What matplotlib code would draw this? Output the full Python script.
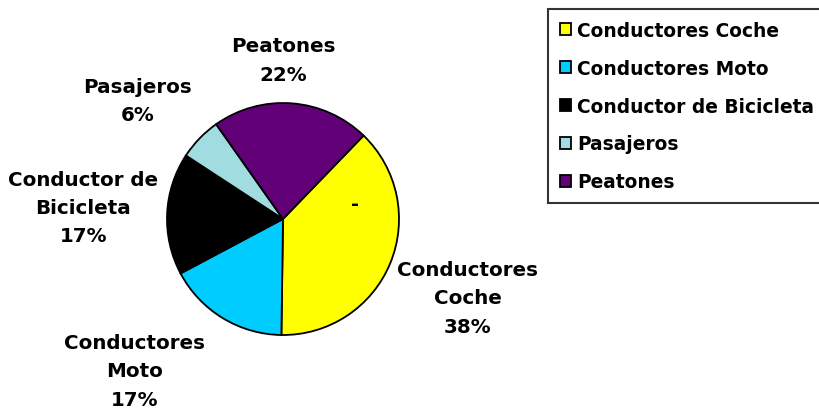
import matplotlib
matplotlib.use("Agg")
import matplotlib.pyplot as plt

# data
categories = ["Conductores Coche", "Conductores Moto", "Conductor de Bicicleta",
              "Pasajeros", "Peatones"]
pct = [38, 17, 17, 6, 22]
label_text = ["Conductores\nCoche", "Conductores\nMoto", "Conductor de\nBicicleta",
              "Pasajeros", "Peatones"]
colors = ["#FFFF00", "#00CCFF", "#000000", "#A0DCE0", "#620078"]

# label anchor points (data coords of the pie axes)
label_pos = [(1.59, -0.68), (-1.28, -1.31), (-1.72, 0.10), (-1.25, 1.02), (0.0, 1.37)]

plt.rcParams['font.family'] = ['DejaVu Sans']

fig = plt.figure(figsize=(8.2, 4.1), dpi=100)
cx, cy, r = 283, 220, 116
ax = fig.add_axes([(cx - r) / 820, (410 - cy - r) / 410, 2 * r / 820, 2 * r / 410])

wedges, _ = ax.pie(pct, colors=colors, startangle=46, counterclock=False,
                   wedgeprops=dict(edgecolor="black", linewidth=1.3))
ax.set_xlim(-1, 1)
ax.set_ylim(-1, 1)
ax.set_aspect("equal")
ax.axis("off")

for txt, p, (x, y) in zip(label_text, pct, label_pos):
    ax.text(x, y, f"{txt}\n{p}%", ha="center", va="center", fontsize=14.3,
            fontweight="bold", linespacing=1.62)

ax.text(0.62, 0.13, "-", ha="center", va="center", fontsize=14, fontweight="bold")

leg = fig.legend(wedges, categories, loc="upper left",
                 bbox_to_anchor=(548 / 820, 1 - 10 / 410), frameon=True,
                 fancybox=False, prop=dict(size=13.4, weight="bold"),
                 handlelength=0.6, handleheight=0.6, handletextpad=0.35,
                 labelspacing=1.02, borderpad=0.62, borderaxespad=0)
leg.get_frame().set_edgecolor("black")
leg.get_frame().set_linewidth(1.5)

fig.savefig("out.png", dpi=100)
